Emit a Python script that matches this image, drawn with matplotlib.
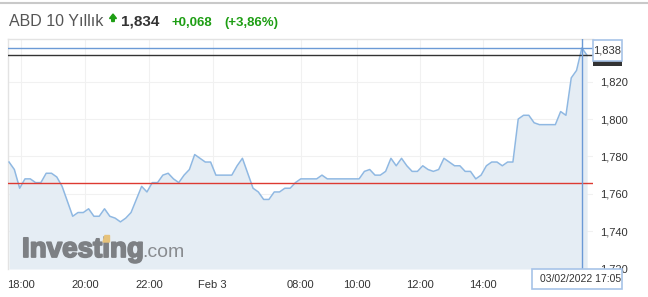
import matplotlib
matplotlib.use('Agg')
import matplotlib.pyplot as plt
import matplotlib.patheffects as pe
import numpy as np
from matplotlib.transforms import Affine2D
from matplotlib.patches import Polygon, Rectangle
from matplotlib.lines import Line2D

plt.rcParams['font.family'] = ['Liberation Sans', 'DejaVu Sans']

# yield series (one point per ~10 min, index based like the source chart)
yields = [1.777, 1.773, 1.763, 1.768, 1.768, 1.766, 1.766, 1.771, 1.771, 1.769,
          1.764, 1.756, 1.748, 1.750, 1.750, 1.752, 1.748, 1.748, 1.752, 1.748,
          1.747, 1.745, 1.747, 1.750, 1.757, 1.764, 1.761, 1.766, 1.766, 1.770,
          1.771, 1.768, 1.766, 1.770, 1.773, 1.781, 1.779, 1.777, 1.777, 1.770,
          1.770, 1.770, 1.770, 1.775, 1.779, 1.771, 1.763, 1.761, 1.757, 1.757,
          1.761, 1.761, 1.763, 1.763, 1.766, 1.768, 1.768, 1.768, 1.768, 1.770,
          1.768, 1.768, 1.768, 1.768, 1.768, 1.768, 1.768, 1.772, 1.773, 1.770,
          1.770, 1.772, 1.779, 1.775, 1.779, 1.775, 1.772, 1.772, 1.775, 1.773,
          1.772, 1.773, 1.779, 1.777, 1.775, 1.775, 1.772, 1.772, 1.768, 1.770,
          1.775, 1.777, 1.777, 1.775, 1.777, 1.777, 1.800, 1.802, 1.802, 1.798,
          1.797, 1.797, 1.797, 1.797, 1.804, 1.802, 1.822, 1.826, 1.838, 1.834]

tick_labels = ['18:00', '20:00', '22:00', 'Feb 3', '08:00', '10:00', '12:00', '14:00']
tick_idx = [2.26, 14.3, 26.4, 38.4, 55.0, 65.6, 77.5, 89.3]
y_ticks = [1.72, 1.74, 1.76, 1.78, 1.80, 1.82]

name = 'ABD 10 Yıllık'
last = 1.834
change = 0.068
change_pct = 3.86
prev_close = round(last - change, 3)
hover_idx = 108
hover_label = '03/02/2022 17:05'


def tr(v, nd=3):
    return f'{v:.{nd}f}'.replace('.', ',')


W, H = 648, 297
fig = plt.figure(figsize=(W / 100, H / 100), dpi=100)
px = Affine2D().scale(1 / W, -1 / H).translate(0, 1) + fig.transFigure

L, R, T, B = 8, 593, 39, 269
ax = fig.add_axes([L / W, 1 - B / H, (R - L) / W, (B - T) / H])

x = np.arange(len(yields))
y = np.array(yields)
ymin, ymax = 1.7198, 1.8428
ax.fill_between(x, y, ymin, color='#e5edf4', zorder=1, lw=0)
ax.plot(x, y, color='#8fb8e2', lw=1.1, zorder=3)

ax.axhline(prev_close, color='#dd3a32', lw=1, zorder=4)
ax.axhline(last, color='#333333', lw=1, zorder=4)
ax.axhline(max(yields), color='#6b9ad6', lw=1, zorder=4)
ax.axvline(hover_idx, color='#6b9ad6', lw=1, zorder=4)

ax.set_xlim(-0.2, 110.1)
ax.set_ylim(ymin, ymax)
ax.set_xticks(tick_idx)
ax.set_xticklabels(tick_labels)
ax.set_yticks(y_ticks)
ax.set_yticklabels([tr(v) for v in y_ticks])
ax.yaxis.tick_right()
ax.tick_params(axis='both', length=0, labelsize=8, colors='#333333')
ax.tick_params(axis='x', pad=8)
ax.tick_params(axis='y', pad=5)
ax.grid(True, color='#f1f1f1', lw=0.8, zorder=0)
ax.set_axisbelow(True)
for s in ['right', 'bottom']:
    ax.spines[s].set_visible(False)
for s in ['left', 'top']:
    ax.spines[s].set_color('#e3e3e3')
    ax.spines[s].set_linewidth(1)

# watermark
wm = fig.text(22 / W, 1 - 257 / H, 'Investing', fontsize=20, fontweight='bold', color='#7d8084',
              va='baseline', zorder=5)
wm.set_path_effects([pe.withStroke(linewidth=1.3, foreground='#7d8084')])
fig.text(142 / W, 1 - 257 / H, '.com', fontsize=14, color='#898c90', va='baseline', zorder=5)
fig.add_artist(Polygon([(103, 242), (105, 235.5), (109.5, 235.5), (109.5, 242)], closed=True,
                       transform=px, color='#e6c27a', zorder=6))

# top grey rule
fig.add_artist(Line2D([0, W], [3, 3], transform=px, color='#c9c9c9', lw=1.5))

# header
fig.text(9 / W, 1 - 26 / H, name, fontsize=11.5, color='#555555', va='baseline')
fig.add_artist(Polygon([(109.5, 18.5), (113, 14), (116.5, 18.5), (114.3, 18.5), (114.3, 21.5),
                        (111.7, 21.5), (111.7, 18.5)], closed=True, transform=px, color='#1e9e14'))
fig.text(121 / W, 1 - 26 / H, tr(last), fontsize=11, fontweight='bold', color='#333333', va='baseline')
fig.text(171 / W, 1 - 26 / H, '+' + tr(change), fontsize=9.5, fontweight='bold', color='#1e9e14',
         va='baseline')
fig.text(224 / W, 1 - 26 / H, '(+' + tr(change_pct, 2) + '%)', fontsize=9.5, fontweight='bold',
         color='#1e9e14', va='baseline')

# price label boxes on the right
fig.add_artist(Rectangle((593, 46), 29, 20, transform=px, facecolor='#333333', edgecolor='none', zorder=7))
fig.add_artist(Rectangle((593, 39.5), 29, 21.5, transform=px, facecolor='white', edgecolor='#a7c3e8',
                         lw=1.2, zorder=8))
fig.text(607.5 / W, 1 - 50.5 / H, tr(max(yields)), fontsize=8, color='#333333', ha='center',
         va='center', zorder=9)

# hover date box
fig.add_artist(Rectangle((532, 269), 90, 19.5, transform=px, facecolor='white', edgecolor='#a7c3e8',
                         lw=1.2, zorder=8))
fig.text(581 / W, 1 - 279.5 / H, hover_label, fontsize=7.5, color='#333333', ha='center',
         va='center', zorder=9)

fig.savefig('out.png', dpi=100)
